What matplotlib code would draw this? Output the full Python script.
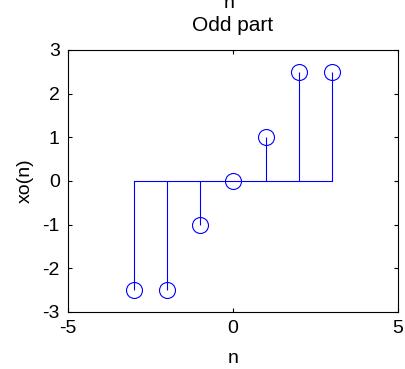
import numpy as np
import matplotlib
matplotlib.use("Agg")
import matplotlib.pyplot as plt

plt.rcParams['font.family'] = ['Liberation Sans', 'DejaVu Sans']
plt.rcParams['axes.unicode_minus'] = False

# odd part of the sequence, xo(n) = (x(n) - x(-n)) / 2
n = [-3, -2, -1, 0, 1, 2, 3]
xo = [-2.5, -2.5, -1.0, 0.0, 1.0, 2.5, 2.5]

fs = 14

fig = plt.figure(figsize=(4.06, 3.69), dpi=100)
ax = fig.add_axes([0.1675, 0.1545, 0.8125, 0.71])

ml, sl, bl = ax.stem(n, xo, linefmt='b-', markerfmt='bo', basefmt='b-')
plt.setp(sl, linewidth=0.8)
plt.setp(bl, linewidth=0.8)
plt.setp(ml, markersize=11.5, markerfacecolor='none', markeredgewidth=0.8)

ax.set_xlim(-5, 5)
ax.set_ylim(-3, 3)
ax.set_xticks([-5, 0, 5])
ax.set_yticks([-3, -2, -1, 0, 1, 2, 3])
ax.tick_params(direction='in', top=True, right=True, length=3, width=0.8, labelsize=fs)
ax.tick_params(axis='y', pad=6)
ax.tick_params(axis='x', pad=6)
for s in ax.spines.values():
    s.set_linewidth(0.8)

ax.set_xlabel('n', fontsize=fs, labelpad=9)
ax.set_ylabel('xo(n)', fontsize=fs, labelpad=6)
ax.set_title('Odd part', fontsize=fs + 1, pad=14)

# label from the plot above, mostly cut off at the top edge
fig.text(0.565, 1 - 7.5 / 369, 'n', fontsize=fs, ha='center', va='baseline')

fig.savefig('out.png', dpi=100)
